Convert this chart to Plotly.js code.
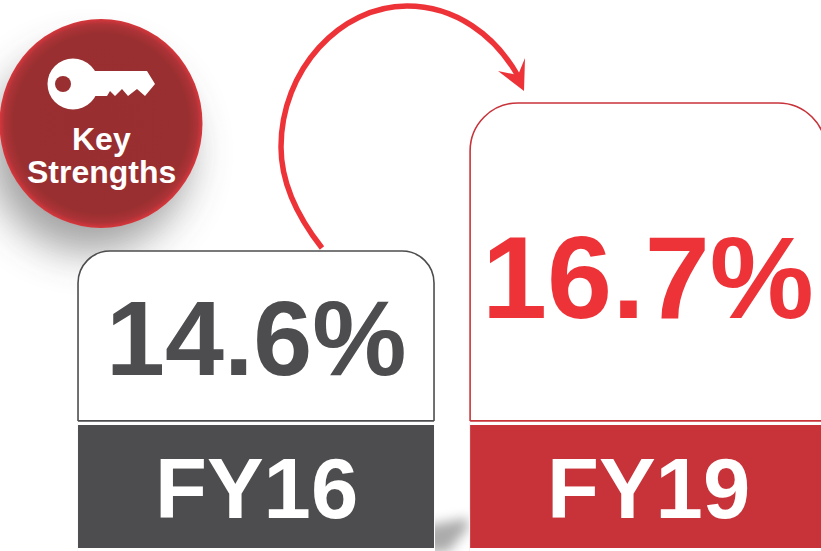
<!DOCTYPE html>
<html>
<head>
<meta charset="utf-8">
<script src="https://cdn.plot.ly/plotly-3.0.1.min.js"></script>
<style>html,body{margin:0;padding:0;background:#fff;overflow:hidden}#chart{width:821px;height:551px}</style>
</head>
<body>
<div id="chart"></div>
<script>
const categories = ['FY16', 'FY19'];
const values = [14.6, 16.7];
const badgeLines = ['Key', 'Strengths'];
const valueColors = ['#4d4d4f', '#ee3338'];
const outlineColors = ['#4d4d4f', '#c8333a'];
const labelColors = ['#4d4d4f', '#c8333a'];
const cornerRadii = [32, 48];

// Axis window: the value boxes are cut off at a truncated baseline.
const yRange = [10.345, 18.16];
const boxBase = 12.19;
const labelBase = 10.387;
const labelTop = 12.132;
const barWidth = 0.908;

const decoration = `<svg xmlns="http://www.w3.org/2000/svg" width="821" height="551" viewBox="0 0 821 551">
<defs>
<radialGradient id="g" cx="0.5" cy="0.5" r="0.5">
<stop offset="0" stop-color="#982e2f"/><stop offset="0.86" stop-color="#992f30"/>
<stop offset="0.95" stop-color="#ad3337"/><stop offset="1" stop-color="#d8373c"/>
</radialGradient>
<filter id="b1" x="-60%" y="-60%" width="220%" height="220%"><feGaussianBlur stdDeviation="20"/></filter>
<filter id="b2" x="-100%" y="-100%" width="300%" height="300%"><feGaussianBlur stdDeviation="6"/></filter>
</defs>
<circle cx="90" cy="152" r="100" fill="#444" opacity="0.5" filter="url(#b1)"/>
<polygon points="425,526 468,518 468,528 448,552 425,552" fill="#666" opacity="0.55" filter="url(#b2)"/>
<ellipse cx="101" cy="123.5" rx="101.5" ry="104.5" fill="url(#g)"/>
<circle cx="73" cy="84" r="25.5" fill="#fff"/>
<polygon points="90,71 147,71 155,84 145,96 137,89 128,96 122,89 115,96 110,91 107,96 90,96" fill="#fff"/>
<circle cx="63" cy="84" r="8" fill="#992f30"/>
<path d="M322,248 C300,220 281,185 281,147 C281,70 340,6 407,6 C455,6 495,35 518,76" fill="none" stroke="#ee3338" stroke-width="5.5"/>
<polygon points="524,91 498,71 518,75 525,58" fill="#ee3338"/>
</svg>`;

const valueTraces = categories.map((c, i) => ({
  type: 'bar', x: [c], y: [values[i]], width: [barWidth],
  marker: { color: '#ffffff', cornerradius: cornerRadii[i], line: { color: outlineColors[i], width: 1.6 } },
  hoverinfo: 'skip', showlegend: false
}));
// White cover hides the part of each box below the truncated baseline.
const coverTrace = {
  type: 'bar', x: categories, y: categories.map(() => boxBase), width: categories.map(() => barWidth + 0.005),
  marker: { color: '#ffffff', line: { width: 0 } }, hoverinfo: 'skip', showlegend: false
};
const labelTrace = {
  type: 'bar', x: categories, y: categories.map(() => labelTop - labelBase),
  base: categories.map(() => labelBase), width: categories.map(() => barWidth),
  marker: { color: labelColors, line: { width: 0 } }, hoverinfo: 'skip', showlegend: false
};

const baselines = categories.map((c, i) => ({
  type: 'line', xref: 'x', yref: 'y', layer: 'above',
  x0: i - barWidth / 2, x1: i + barWidth / 2, y0: boxBase, y1: boxBase,
  line: { color: outlineColors[i], width: 1.6 }
}));

const font = 'Liberation Sans, Arial, sans-serif';
const annotations = [
  { x: categories[0], y: 13.36, text: '<b>' + values[0] + '%</b>', font: { family: font, size: 106, color: valueColors[0] } },
  { x: categories[1], y: 14.22, text: '<b>' + values[1] + '%</b>', font: { family: font, size: 117, color: valueColors[1] } },
  { x: categories[0], y: 11.235, text: '<b>' + categories[0] + '</b>', font: { family: font, size: 85, color: '#ffffff' } },
  { x: categories[1], y: 11.235, text: '<b>' + categories[1] + '</b>', font: { family: font, size: 85, color: '#ffffff' } },
  { xref: 'paper', yref: 'paper', x: 101 / 821, y: 1 - 139 / 551, text: '<b>' + badgeLines[0] + '</b>', font: { family: font, size: 32, color: '#ffffff' } },
  { xref: 'paper', yref: 'paper', x: 101 / 821, y: 1 - 172 / 551, text: '<b>' + badgeLines[1] + '</b>', font: { family: font, size: 32, color: '#ffffff' } }
].map(a => Object.assign({ showarrow: false, xanchor: 'center', yanchor: 'middle', borderpad: 0 }, a));

const layout = {
  width: 821, height: 551,
  margin: { l: 0, r: 0, t: 0, b: 0, pad: 0 },
  paper_bgcolor: '#ffffff', plot_bgcolor: 'rgba(0,0,0,0)',
  barmode: 'overlay', showlegend: false,
  xaxis: { type: 'category', categoryorder: 'array', categoryarray: categories, range: [-0.653, 1.441], visible: false, fixedrange: true },
  yaxis: { range: yRange, visible: false, fixedrange: true },
  images: [{
    source: 'data:image/svg+xml;charset=utf-8,' + encodeURIComponent(decoration),
    xref: 'paper', yref: 'paper', x: 0, y: 1, sizex: 1, sizey: 1,
    xanchor: 'left', yanchor: 'top', sizing: 'stretch', layer: 'below'
  }],
  shapes: baselines,
  annotations
};

Plotly.newPlot('chart', valueTraces.concat([coverTrace, labelTrace]), layout, { displayModeBar: false, staticPlot: true });
</script>
</body>
</html>
